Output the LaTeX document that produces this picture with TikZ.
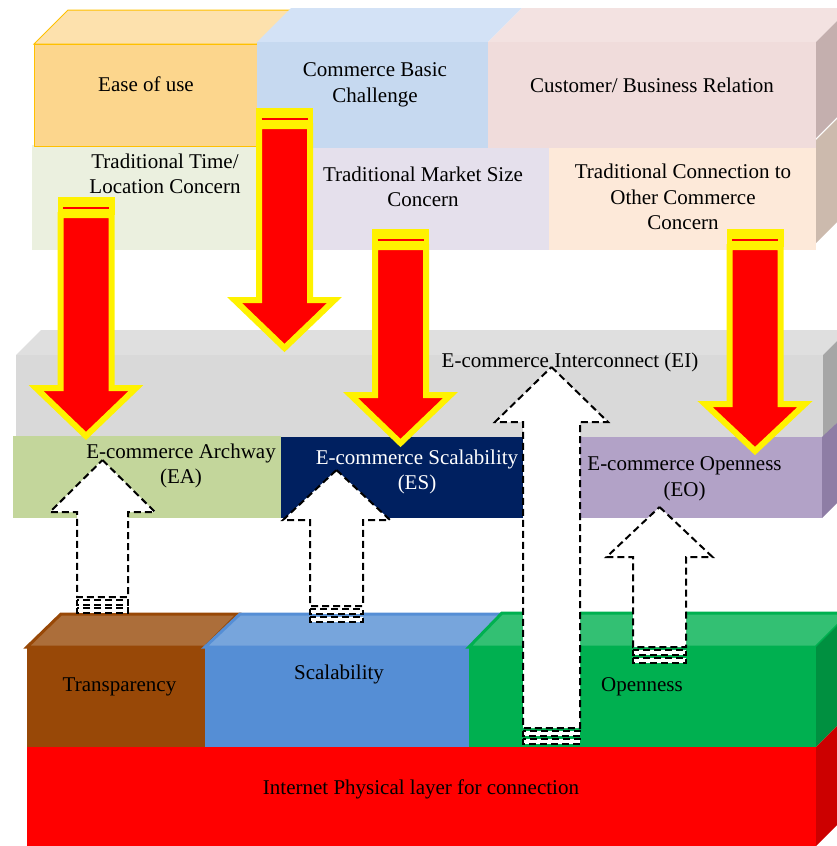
\documentclass[tikz,border=0pt]{standalone}
\usepackage{fontspec}
\setmainfont{Liberation Serif}
\definecolor{easeF}{HTML}{FCD68D}
\definecolor{easeT}{HTML}{FDE1AD}
\definecolor{easeB}{HTML}{FFC000}
\definecolor{cbF}{HTML}{C6D9F0}
\definecolor{cbT}{HTML}{D3E2F6}
\definecolor{cuF}{HTML}{F0DCDB}
\definecolor{cuT}{HTML}{F3E2E1}
\definecolor{cuS}{HTML}{C4AFAE}
\definecolor{cuSb}{HTML}{CCBAAD}
\definecolor{rowA}{HTML}{EBF0DF}
\definecolor{rowB}{HTML}{E5E0EC}
\definecolor{rowC}{HTML}{FDE9D9}
\definecolor{grF}{HTML}{D9D9D9}
\definecolor{grT}{HTML}{DFDFDF}
\definecolor{grS}{HTML}{A6A6A6}
\definecolor{eaC}{HTML}{C3D69B}
\definecolor{esC}{HTML}{002060}
\definecolor{eoC}{HTML}{B2A2C7}
\definecolor{eoS}{HTML}{8E7DA5}
\definecolor{trF}{HTML}{984807}
\definecolor{trT}{HTML}{AC6E3A}
\definecolor{scF}{HTML}{558ED5}
\definecolor{scT}{HTML}{77A5DC}
\definecolor{opF}{HTML}{00B050}
\definecolor{opT}{HTML}{33C073}
\definecolor{opS}{HTML}{009040}
\definecolor{redS}{HTML}{CC0000}
\newcommand\RedArrow[5]{%
  \fill[yellow] ({#1-28.5},#2) rectangle ({#1+28.5},{#2+18});
  \draw[red, line width=1.8pt] ({#1-23},{#2+11}) -- ({#1+23},{#2+11});
  \filldraw[redarr] ({#1-25.5},{#2+18}) -- ({#1+25.5},{#2+18}) -- ({#1+25.5},#3) -- ({#1+#5},#3) -- (#1,#4) -- ({#1-#5},#3) -- ({#1-25.5},#3) -- cycle;}
\newcommand\WhiteArrow[6]{%
  \filldraw[whitearr] (#1,#2) -- ({#1+#5},#3) -- ({#1+#4},#3) -- ({#1+#4},#6) -- ({#1-#4},#6) -- ({#1-#4},#3) -- ({#1-#5},#3) -- cycle;
  \filldraw[whitearr] ({#1-#4},{#6+3}) rectangle ({#1+#4},{#6+8});
  \filldraw[whitearr] ({#1-#4},{#6+11}) rectangle ({#1+#4},{#6+16});}
\begin{document}
\begin{tikzpicture}[x=1pt,y=-1pt,line join=miter,
  lbl/.style={font=\fontsize{21}{25.5}\selectfont, align=center, inner sep=0pt},
  redarr/.style={fill=red, draw=yellow, line width=6pt},
  whitearr/.style={fill=white, draw=black, line width=2pt, dash pattern=on 7pt off 4pt}]
\useasboundingbox (0,0) rectangle (837,846);
\clip (0,0) rectangle (837,846);
% second row
\fill[rowA] (32,145) rectangle (313,250);
\fill[rowB] (313,148) rectangle (549,250);
\fill[rowC] (549,148) rectangle (816,250);
% top cubes
\filldraw[fill=easeT, draw=easeB, line width=1pt] (34,44) -- (68,10) -- (291,10) -- (257,44) -- cycle;
\filldraw[fill=easeF, draw=easeB, line width=1pt] (34,44) rectangle (257,146);
\fill[cbT] (257,42) -- (291,8) -- (522,8) -- (488,42) -- cycle;
\fill[cbF] (257,42) rectangle (488,148);
\fill[cuT] (488,42) -- (522,8) -- (850,8) -- (816,42) -- cycle;
\fill[cuF] (488,42) rectangle (816,148);
\fill[cuS] (816,42) -- (840,18) -- (840,114) -- (816,138) -- cycle;
\fill[cuSb] (816,140) -- (840,116) -- (840,219) -- (816,243) -- cycle;
% interconnect slab
\fill[grT] (16,355) -- (41,330) -- (848,330) -- (823,355) -- cycle;
\fill[grF] (16,355) rectangle (823,437);
\fill[grS] (823,355) -- (848,330) -- (848,412) -- (823,437) -- cycle;
% EA ES EO
\fill[eaC] (13,436) rectangle (281,518);
\fill[esC] (281,437) rectangle (524,518);
\fill[eoC] (524,437) rectangle (822,518);
\fill[eoS] (822,437) -- (840,420) -- (840,500) -- (822,518) -- cycle;
% bottom cubes
\filldraw[fill=trT, draw=trF, line width=3pt] (27,647) -- (61,614) -- (238,614) -- (205,647) -- cycle;
\fill[trF] (27,647) rectangle (205,747);
\filldraw[fill=scT, draw=scF, line width=3pt] (205,647) -- (240,614) -- (502,614) -- (469,647) -- cycle;
\fill[scF] (205,647) rectangle (469,748);
\filldraw[fill=opT, draw=opF, line width=3pt] (469,647) -- (502,613) -- (850,613) -- (816,647) -- cycle;
\fill[opF] (469,647) rectangle (816,747);
\fill[opS] (816,647) -- (850,613) -- (850,713) -- (816,747) -- cycle;
\fill[red] (27,747) rectangle (816,846);
\fill[redS] (816,747) -- (850,713) -- (850,812) -- (816,846) -- cycle;
% red arrows
\RedArrow{86}{197}{388}{436}{50}
\RedArrow{284.5}{108}{300}{348}{50}
\RedArrow{400.5}{229}{395}{443}{50}
\RedArrow{755}{229}{404}{451}{50}
% white arrows
\WhiteArrow{102.5}{460}{512}{25.5}{52.5}{597}
\WhiteArrow{336.5}{470}{520}{26.5}{53.5}{606}
\WhiteArrow{551.5}{367}{422}{28.5}{56.5}{728}
\WhiteArrow{659.5}{507}{557}{26.5}{53}{647}
% labels
\node[lbl] (ease) at (146,84) {Ease of use};
\node[lbl] (cbc) at (375,85) {Commerce Basic\\Challenge};
\node[lbl] (cbr) at (652,85) {Customer/ Business Relation};
\node[lbl] (ttl) at (165,174) {Traditional Time/\\Location Concern};
\node[lbl] (tms) at (423,187) {Traditional Market Size\\Concern};
\node[lbl] (tco) at (683,197) {Traditional Connection to\\Other Commerce\\Concern};
\node[lbl] (ei) at (570,362) {E-commerce Interconnect (EI)};
\node[lbl] (ea) at (181,466) {E-commerce Archway\\(EA)};
\node[lbl, text=white] (es) at (417,472) {E-commerce Scalability\\(ES)};
\node[lbl] (eo) at (684.5,479) {E-commerce Openness\\(EO)};
\node[lbl] (tr) at (119.5,687) {Transparency};
\node[lbl] (sc) at (339,674) {Scalability};
\node[lbl] (op) at (642,687) {Openness};
\node[lbl] (ip) at (421,789) {Internet Physical layer for connection};
\end{tikzpicture}
\end{document}
